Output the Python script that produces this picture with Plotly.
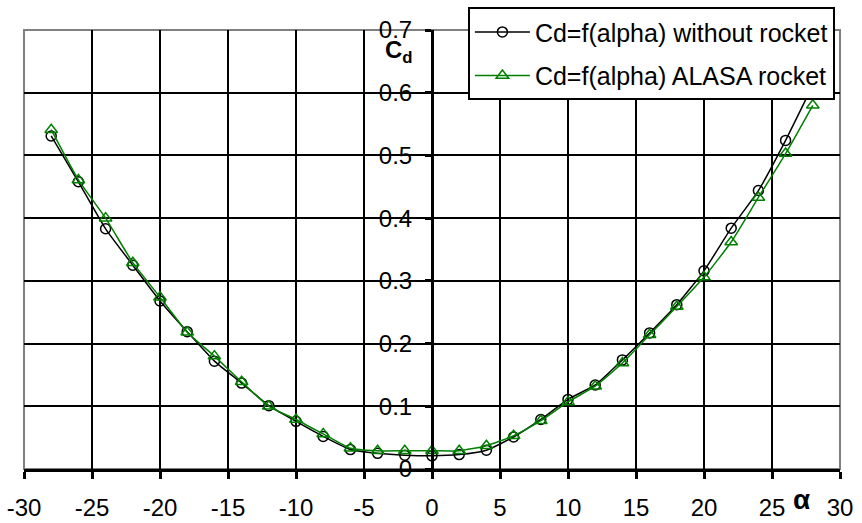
import plotly.graph_objects as go

alpha = [-28, -26, -24, -22, -20, -18, -16, -14, -12, -10, -8, -6, -4, -2,
         0, 2, 4, 6, 8, 10, 12, 14, 16, 18, 20, 22, 24, 26, 28]
cd_without = [0.531, 0.458, 0.383, 0.325, 0.268, 0.219, 0.172, 0.137, 0.101, 0.076,
              0.052, 0.031, 0.025, 0.022, 0.021, 0.023, 0.030, 0.051, 0.079, 0.111,
              0.134, 0.174, 0.217, 0.262, 0.316, 0.384, 0.444, 0.524, 0.612]
cd_alasa = [0.541, 0.461, 0.400, 0.329, 0.274, 0.218, 0.180, 0.139, 0.100, 0.079,
            0.056, 0.033, 0.029, 0.029, 0.029, 0.029, 0.037, 0.053, 0.077, 0.107,
            0.132, 0.169, 0.214, 0.259, 0.306, 0.362, 0.433, 0.503, 0.580]
x_ticks = [-30, -25, -20, -15, -10, -5, 0, 5, 10, 15, 20, 25, 30]
y_ticks = [0, 0.1, 0.2, 0.3, 0.4, 0.5, 0.6, 0.7]
name_without = "Cd=f(alpha) without rocket"
name_alasa = "Cd=f(alpha) ALASA rocket"

FONT = "Liberation Sans, Arial, sans-serif"
FS = 24

fig = go.Figure()
fig.add_trace(go.Scatter(
    x=alpha, y=cd_without, name=name_without, mode="lines+markers",
    line=dict(color="black", width=1.5, shape="spline", smoothing=0.5),
    marker=dict(symbol="circle-open", size=10, color="black", line=dict(width=1.5)),
    legendgroup="a",
))
fig.add_trace(go.Scatter(
    x=alpha, y=cd_alasa, name=name_alasa, mode="lines+markers",
    line=dict(color="#008000", width=1.5, shape="spline", smoothing=0.5),
    marker=dict(symbol="triangle-up-open", size=11, color="#008000", line=dict(width=1.5)),
    legendgroup="b",
))

# plot area border (gray)
fig.add_shape(type="rect", xref="x domain", yref="y domain", x0=0, x1=1, y0=0, y1=1,
              line=dict(color="#808080", width=2), layer="below")

fig.add_annotation(x=-2.4, y=0.666, xref="x", yref="y", text="<b>C<sub>d</sub></b>",
                   showarrow=False, font=dict(family=FONT, size=24, color="black"))
fig.add_annotation(x=27.2, y=-0.11, xref="x", yref="paper", text="<b>α</b>",
                   showarrow=False, font=dict(family=FONT, size=28, color="black"))

fig.update_layout(
    width=862, height=523,
    margin=dict(l=24, r=22, t=30, b=54, autoexpand=False),
    paper_bgcolor="white", plot_bgcolor="white",
    font=dict(family=FONT, size=FS, color="black"),
    showlegend=True,
    legend=dict(x=0.544, y=1.052, xanchor="left", yanchor="top",
                bgcolor="white", bordercolor="black", borderwidth=2,
                font=dict(family=FONT, size=25, color="black"),
                tracegroupgap=8, traceorder="grouped", itemwidth=55),
    xaxis=dict(range=[-30, 30], tickmode="array", tickvals=x_ticks,
               ticktext=[str(v) for v in x_ticks],
               showgrid=True, gridcolor="black", gridwidth=1.5,
               showline=True, linecolor="black", linewidth=3,
               ticks="outside", ticklen=7, tickwidth=3, tickcolor="black",
               zeroline=False, ticklabelstandoff=8, fixedrange=True,
               automargin=False),
    yaxis=dict(range=[0, 0.7], tickmode="array", tickvals=y_ticks,
               ticktext=["0" if v == 0 else f"{v:.1f}" for v in y_ticks],
               anchor="free", position=0.5,
               showgrid=True, gridcolor="black", gridwidth=1.5,
               showline=True, linecolor="black", linewidth=3,
               ticks="outside", ticklen=6, tickwidth=3, tickcolor="black",
               ticklabelstandoff=8,
               zeroline=False, fixedrange=True, automargin=False),
)

fig.write_html("out.html")
